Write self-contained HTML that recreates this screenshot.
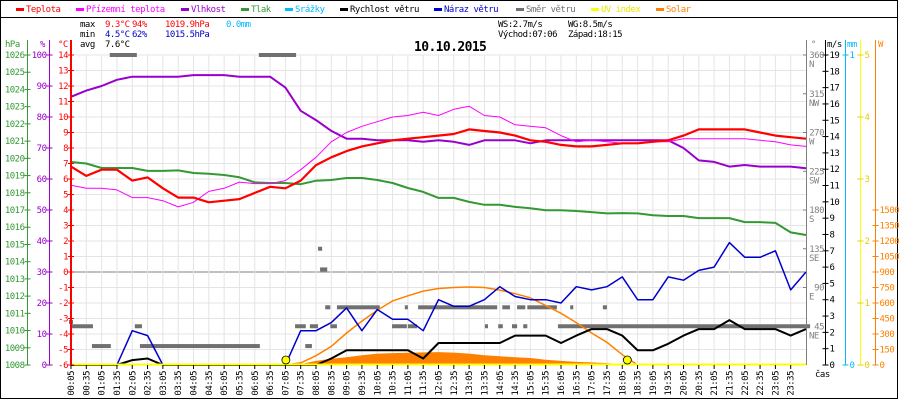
<!DOCTYPE html>
<html><head><meta charset="utf-8"><style>
html,body{margin:0;padding:0;background:#fff}
svg{display:block;font-family:"DejaVu Sans Mono","Liberation Mono",monospace;font-size:9px}
text{letter-spacing:-0.5px}
</style></head><body>
<svg id="chart" width="900" height="400" viewBox="0 0 900 400" xmlns="http://www.w3.org/2000/svg">
<rect x="0.5" y="0.5" width="897" height="398" fill="#fff" stroke="#000"/>
<line x1="0" y1="17.5" x2="898" y2="17.5" stroke="#000"/>
<g id="legend"></g>
<g>
<text x="80" y="27" fill="#000">max</text><text x="105" y="27" fill="#f00">9.3°C</text><text x="132" y="27" fill="#f00">94%</text><text x="165" y="27" fill="#f00">1019.9hPa</text><text x="226" y="27" fill="#00bbff">0.0mm</text>
<text x="80" y="37" fill="#000">min</text><text x="105" y="37" fill="#0000cc">4.5°C</text><text x="132" y="37" fill="#0000cc">62%</text><text x="165" y="37" fill="#0000cc">1015.5hPa</text>
<text x="80" y="47" fill="#000">avg</text><text x="105" y="47" fill="#000">7.6°C</text>
<text x="498" y="27" fill="#000">WS:2.7m/s</text><text x="568" y="27" fill="#000">WG:8.5m/s</text>
<text x="498" y="37" fill="#000">Východ:07:06</text><text x="568" y="37" fill="#000">Západ:18:15</text>
</g>
<text x="414" y="51" font-size="13" font-weight="bold" fill="#000" style="letter-spacing:-0.6px">10.10.2015</text>
<g id="grid"></g><g id="series"></g><g id="axes"></g>
</svg>
<script>
const timeLabels=["00:05","00:35","01:05","01:35","02:05","02:35","03:05","03:35","04:05","04:35","05:05","05:35","06:05","06:35","07:05","07:35","08:05","08:35","09:05","09:35","10:05","10:35","11:05","11:35","12:05","12:35","13:05","13:35","14:05","14:35","15:05","15:35","16:05","16:35","17:05","17:35","18:05","18:35","19:05","19:35","20:05","20:35","21:05","21:35","22:05","22:35","23:05","23:35","00:05"];
const temperature=[6.8,6.2,6.6,6.6,5.9,6.1,5.4,4.8,4.8,4.5,4.6,4.7,5.1,5.5,5.4,5.9,6.9,7.4,7.8,8.1,8.3,8.5,8.6,8.7,8.8,8.9,9.2,9.1,9.0,8.8,8.5,8.4,8.2,8.1,8.1,8.2,8.3,8.3,8.4,8.5,8.8,9.2,9.2,9.2,9.2,9.0,8.8,8.7,8.6];
const feelsLike=[5.6,5.4,5.4,5.3,4.8,4.8,4.6,4.2,4.5,5.2,5.4,5.8,5.7,5.7,5.9,6.6,7.4,8.4,9.0,9.4,9.7,10.0,10.1,10.3,10.1,10.5,10.7,10.1,10.0,9.5,9.4,9.3,8.8,8.4,8.5,8.4,8.3,8.3,8.4,8.4,8.6,8.6,8.6,8.6,8.6,8.5,8.4,8.2,8.1];
const humidity=[86.5,88.5,90,92,93,93,93,93,93.5,93.5,93.5,93,93,93,89.5,82,79,75.5,73,73,72.5,72.5,72.5,72,72.5,72,71,72.5,72.5,72.5,71.5,72.5,72.5,72.5,72.5,72.5,72.5,72.5,72.5,72.5,70,66,65.5,64,64.5,64,64,64,63.5];
const pressure=[1019.79,1019.7,1019.44,1019.44,1019.44,1019.27,1019.27,1019.3,1019.15,1019.1,1019.03,1018.9,1018.6,1018.57,1018.57,1018.5,1018.7,1018.74,1018.86,1018.86,1018.74,1018.57,1018.28,1018.05,1017.7,1017.7,1017.47,1017.3,1017.3,1017.18,1017.1,1016.99,1016.99,1016.94,1016.88,1016.8,1016.82,1016.8,1016.7,1016.65,1016.65,1016.53,1016.53,1016.53,1016.3,1016.3,1016.25,1015.7,1015.55];
const windGust=[0,0,0,0,2.1,1.8,0,0,0,0,0,0,0,0,0,2.1,2.1,2.6,3.5,2.1,3.4,2.8,2.8,2.1,4.0,3.6,3.6,4.0,4.8,4.2,4.0,4.0,3.8,4.8,4.6,4.8,5.4,4.0,4.0,5.4,5.2,5.8,6.0,7.5,6.6,6.6,7.0,4.6,5.7];
const windSpeed=[0,0,0,0,0.3,0.4,0,0,0,0,0,0,0,0,0,0,0,0.4,0.9,0.9,0.9,0.9,0.9,0.4,1.35,1.35,1.35,1.35,1.35,1.8,1.8,1.8,1.35,1.8,2.2,2.2,1.8,0.9,0.9,1.3,1.8,2.2,2.2,2.75,2.2,2.2,2.2,1.8,2.2];
const solarTheory=[0,0,0,0,0,0,0,0,0,0,0,0,0,0,0,20,90,180,310,425,530,620,670,715,740,750,755,750,725,690,650,575,500,410,310,220,100,0,0,0,0,0,0,0,0,0,0,0,0];
const solarMeasured=[0,0,0,0,0,0,0,0,0,0,0,0,0,0,0,10,40,60,75,95,110,115,118,122,125,120,110,95,85,75,68,50,40,30,25,18,8,0,0,0,0,0,0,0,0,0,0,0,0];
const dirStart=[1,7,46,81,130,140,373,444,464,473,489,493,503,513,526,634,659,665,685,816,842,850,869,879,891,899,959,983,1047];
const dirEnd=[9,48,83,134,144,375,446,465,477,489,497,507,513,526,610,663,665,683,840,822,851,865,879,895,899,957,1453,989,1055];
const dirDeg=[50,45,22,360,45,22,360,45,22,45,135,111,67,45,67,45,67,45,67,45,45,67,45,67,45,67,45,67,67];
const sunEvents=[426,1095];
const hpaTicks=[1008,1009,1010,1011,1012,1013,1014,1015,1016,1017,1018,1019,1020,1021,1022,1023,1024,1025,1026];
const humTicks=[0,10,20,30,40,50,60,70,80,90,100];
const tempTicks=[-6,-5,-4,-3,-2,-1,0,1,2,3,4,5,6,7,8,9,10,11,12,13,14];
const dirTicks=[45,90,135,180,225,270,315,360];
const dirNames=["NE","E","SE","S","SW","W","NW","N"];
const msTicks=[0,1,2,3,4,5,6,7,8,9,10,11,12,13,14,15,16,17,18,19];
const uvTicks=[0,1,2,3,4,5];
const wTicks=[0,150,300,450,600,750,900,1050,1200,1350,1500];

const NS="http://www.w3.org/2000/svg";
const toMin=s=>{const p=s.split(":");return +p[0]*60+ +p[1];};
const times=timeLabels.map((s,i)=>i===timeLabels.length-1?1445:toMin(s));
const xT=m=>71+(m-5)*15.3125/30;
const yC=c=>272-c*15.5;
const yH=h=>365-h*3.1;
const yP=p=>365-(p-1008)*310/18;
const yV=v=>365-v*310/19;
const yD=d=>365-d*310/360;
const yW=w=>365-w*310/3000;
const yU=u=>365-u*62;
function mk(tag,attrs,parent,txt){const e=document.createElementNS(NS,tag);for(const k in attrs)e.setAttribute(k,attrs[k]);if(txt!==undefined)e.textContent=txt;parent.appendChild(e);return e;}
const grid=document.getElementById('grid'),series=document.getElementById('series'),axes=document.getElementById('axes'),legend=document.getElementById('legend');

// legend
const legItems=[["Teplota","#ff0000",16],["Přízemní teplota","#ff00ff",76],["Vlhkost","#9900cc",181],["Tlak","#339933",241],["Srážky","#00bbff",285],["Rychlost větru","#000000",340],["Náraz větru","#0000cc",434],["Směr větru","#707070",516],["UV index","#ffff00",591],["Solar","#ff8000",656]];
legItems.forEach(it=>{
  const g=mk('g',{},legend);
  
  
  mk('rect',{x:it[2],y:8,width:8,height:3,fill:it[1]},g);
  mk('text',{x:it[2]+10,y:12,fill:it[1]==="#ffff00"?"#e8e800":it[1]},g,it[0]);
});

// grid
tempTicks.forEach(c=>{const l=mk('line',{x1:71,x2:806,y1:yC(c),y2:yC(c),stroke:c===0?"#808080":"#e4e4e4","stroke-width":1},grid);

});
times.forEach((t,i)=>{if(i===0||i===times.length-1)return;const l=mk('line',{x1:xT(t),x2:xT(t),y1:55,y2:365,stroke:"#e4e4e4"},grid);

});

// series helpers
function path(vals,ys,color,w,name){let d="";vals.forEach((v,i)=>{d+=(i?"L":"M")+xT(times[i]).toFixed(1)+","+ys(v).toFixed(1);});
const p=mk('path',{d:d,fill:"none",stroke:color,"stroke-width":w,"stroke-linejoin":"round"},series);

return p;}

// solar measured area
{let d="M"+xT(times[0])+",365";solarMeasured.forEach((v,i)=>{d+="L"+xT(times[i]).toFixed(1)+","+yW(v).toFixed(1);});d+="L"+xT(times[times.length-1])+",365Z";
const a=mk('path',{d:d,fill:"#ff8000",stroke:"none"},series);

}
// wind direction
dirDeg.forEach((d,i)=>{const r=mk('rect',{x:xT(dirStart[i]),y:yD(d)-2,width:Math.max(2,xT(dirEnd[i])-xT(dirStart[i])),height:4,fill:"#707070"},series);

});
// solar theory line
{let d="";let started=false;solarTheory.forEach((v,i)=>{const keep=v>0||(solarTheory[i+1]>0)||(solarTheory[i-1]>0);if(!keep)return;d+=(started?"L":"M")+xT(times[i]).toFixed(1)+","+yW(v).toFixed(1);started=true;});
const p=mk('path',{d:d,fill:"none",stroke:"#ff8000","stroke-width":1.5},series);

}
path(pressure,yP,"#339933",2,'pressure-line');
path(humidity,yH,"#9900cc",2,'humidity-line');
path(feelsLike,yC,"#ff00ff",1,'feels-like-line');
path(temperature,yC,"#ff0000",2.2,'temperature-line');
path(windGust,yV,"#0000cc",1.5,'wind-gust-line');
path(windSpeed,yV,"#000000",2,'wind-speed-line');
// UV baseline
{const l=mk('line',{x1:71,x2:806,y1:364.5,y2:364.5,stroke:"#ffff00","stroke-width":2},series);

}
sunEvents.forEach(m=>{const c=mk('circle',{cx:xT(m),cy:360,r:4,fill:"#ffff00",stroke:"#000","stroke-width":0.8},series);

});

// axes
function vAxis(x,color,name,w){const l=mk('line',{x1:x,x2:x,y1:40,y2:365,stroke:color,"stroke-width":w||1},axes);

}
vAxis(27.5,"#339933",'pressure-axis');vAxis(49.5,"#9900cc",'humidity-axis');vAxis(71,"#ff0000",'temperature-axis',2);
vAxis(806.5,"#808080",'direction-axis');vAxis(825.5,"#000",'wind-speed-axis');vAxis(845.5,"#00bbff",'precip-axis');vAxis(860.5,"#ffff00",'uv-axis');vAxis(875.5,"#ff8000",'solar-axis');
function ticks(vals,ys,x,color,side,name,fmt){vals.forEach(v=>{const y=ys(v);mk('line',{x1:x-3,x2:x+3,y1:y,y2:y,stroke:color},axes);
const t=mk('text',{x:side<0?x-3:x+4,y:y+3,fill:color,"text-anchor":side<0?"end":"start"},axes,fmt?fmt(v):String(v));

});}
ticks(hpaTicks,yP,27.5,"#339933",-1,'pressure-tick-label');
ticks(humTicks,yH,49.5,"#9900cc",-1,'humidity-tick-label');
ticks(tempTicks,yC,71,"#ff0000",-1,'temperature-tick-label');
ticks(msTicks,yV,825.5,"#000",1,'wind-speed-tick-label');
ticks([0,1],v=>365-v*310,845.5,"#00bbff",1,'precip-tick-label');
ticks(uvTicks,yU,860.5,"#e0d000",1,'uv-tick-label');
ticks(wTicks,yW,875.5,"#ff8000",1,'solar-tick-label');
dirTicks.forEach((d,i)=>{const y=yD(d);mk('line',{x1:803,x2:806,y1:y,y2:y,stroke:"#808080"},axes);
const t=mk('text',{x:824,y:y+3,fill:"#808080","text-anchor":"end"},axes,String(d));


const n=mk('text',{x:809,y:y+12,fill:"#808080"},axes,dirNames[i]);

});
[["hPa",5,"#339933"],["%",40,"#9900cc"],["°C",58,"#ff0000"],["°",811,"#808080"],["m/s",827,"#000"],["mm",847,"#00bbff"],["W",878,"#ff8000"]].forEach(u=>{
const t=mk('text',{x:u[1],y:47,fill:u[2]},axes,u[0]);

});
// x axis
timeLabels.forEach((s,i)=>{if(i===timeLabels.length-1)return;const x=xT(times[i]);mk('line',{x1:x,x2:x,y1:365,y2:369,stroke:"#000"},axes);
const t=mk('text',{transform:"translate("+(x+3)+",371) rotate(-90)",fill:"#000","text-anchor":"end"},axes,s);

});
{const t=mk('text',{x:815,y:377,fill:"#000"},axes,"čas");

}
</script>
</body></html>
